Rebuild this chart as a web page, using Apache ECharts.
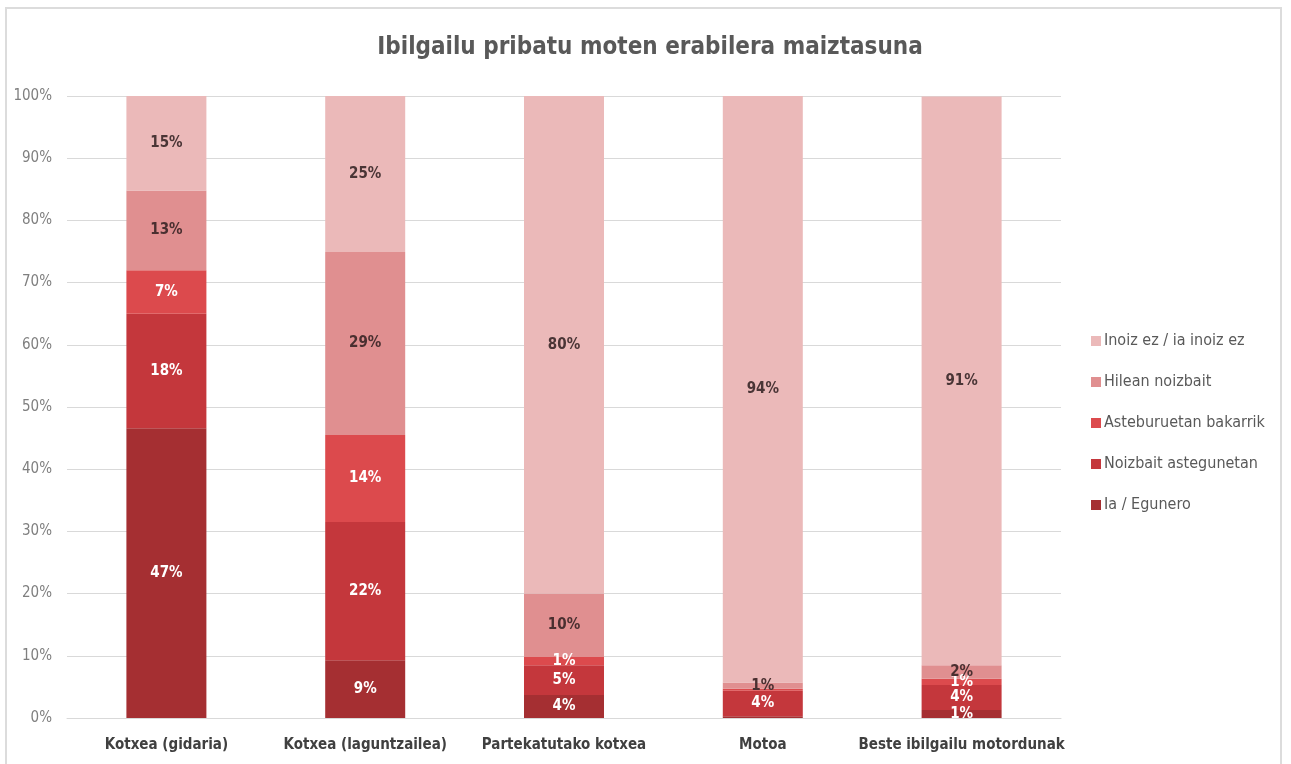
<!DOCTYPE html>
<html>
<head>
<meta charset="utf-8">
<style>
  html, body { margin: 0; padding: 0; background: #fff; }
  #frame { position: absolute; left: 5px; top: 7px; width: 1277px; height: 770px; border: 2px solid #dcdcdc; box-sizing: border-box; }
  #chart { position: absolute; left: 0; top: 0; width: 1291px; height: 764px; }
</style>
<script src="https://cdn.jsdelivr.net/npm/echarts@6/dist/echarts.min.js"></script>
</head>
<body>
<div id="frame"></div>
<div id="chart"></div>
<script>
const categories = ["Kotxea (gidaria)", "Kotxea (laguntzailea)", "Partekatutako kotxea", "Motoa", "Beste ibilgailu motordunak"]

// bottom to top
const egunero = [46.6, 9.3, 3.7, 0.3, 1.3]
const astegunetan = [18.4, 22.2, 4.8, 4.1, 4.0]
const asteburuetan = [7.0, 14.0, 1.3, 0.3, 1.0]
const hilean = [12.8, 29.4, 10.2, 1.0, 2.2]
const inoiz = [15.2, 25.1, 80.0, 94.3, 91.4]

const yTicks = [0, 10, 20, 30, 40, 50, 60, 70, 80, 90, 100]

const font = "'DejaVu Sans Condensed', 'Roboto', sans-serif"

const chart = echarts.init(document.getElementById("chart"))

function makeSeries(name, data, color, labelColor) {
  return {
    name: name,
    type: "bar",
    stack: "total",
    barWidth: 80,
    data: data,
    itemStyle: { color: color },
    label: {
      show: true,
      position: "inside",
      fontFamily: font,
      fontWeight: "bold",
      fontSize: 15,
      color: labelColor,
      formatter: p => p.value < 0.5 ? "" : Math.round(p.value) + "%"
    },
    emphasis: { disabled: true }
  }
}

chart.setOption({
  animation: false,
  title: {
    text: "Ibilgailu pribatu moten erabilera maiztasuna",
    left: 645,
    top: 31,
    textAlign: "center",
    textStyle: { fontFamily: font, fontSize: 24, fontWeight: "bold", color: "#595959" }
  },
  legend: {
    orient: "vertical",
    left: 1086,
    top: 328,
    itemWidth: 10,
    itemHeight: 10,
    itemGap: 25,
    icon: "rect",
    textStyle: { fontFamily: font, fontSize: 16, color: "#595959", padding: [0, 0, 0, -2] },
    data: ["Inoiz ez / ia inoiz ez", "Hilean noizbait", "Asteburuetan bakarrik", "Noizbait astegunetan", "Ia / Egunero"]
  },
  grid: { left: 67, right: 230, top: 96, bottom: 46 },
  xAxis: {
    type: "category",
    data: categories,
    axisTick: { show: false },
    axisLine: { lineStyle: { color: "#d9d9d9", width: 1 } },
    axisLabel: { interval: 0, fontFamily: font, fontSize: 15, fontWeight: "bold", color: "#404040", margin: 20 }
  },
  yAxis: {
    type: "value",
    min: yTicks[0],
    max: yTicks[yTicks.length - 1],
    interval: 10,
    axisLine: { show: false },
    axisTick: { show: false },
    splitLine: { lineStyle: { color: "#d9d9d9", width: 1 } },
    axisLabel: { fontFamily: font, fontSize: 15, color: "#7f7f7f", margin: 15, formatter: "{value}%" }
  },
  series: [
    makeSeries("Ia / Egunero", egunero, "#a52f32", "#ffffff"),
    makeSeries("Noizbait astegunetan", astegunetan, "#c4373c", "#ffffff"),
    makeSeries("Asteburuetan bakarrik", asteburuetan, "#dc4a4d", "#ffffff"),
    makeSeries("Hilean noizbait", hilean, "#e08f90", "#4a2f30"),
    makeSeries("Inoiz ez / ia inoiz ez", inoiz, "#ebb9b9", "#4a3536")
  ]
})
</script>
</body>
</html>
